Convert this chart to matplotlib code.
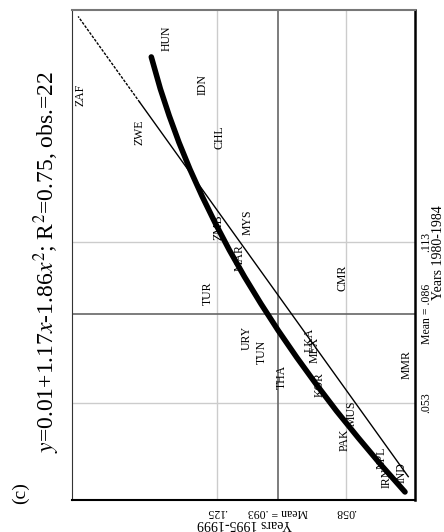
import matplotlib.pyplot as plt

plt.rcParams['font.family'] = ['Liberation Serif', 'DejaVu Serif']
plt.rcParams['mathtext.fontset'] = 'stix'

# country labels: x = years 1980-1984, y = years 1995-1999
countries = ['ZAF', 'ZWE', 'HUN', 'IDN', 'CHL', 'MYS', 'ZMB', 'MAR', 'TUR', 'CMR', 'URY',
             'TUN', 'THA', 'LKA', 'MEX', 'MMR', 'KOR', 'MUS', 'PAK', 'NPL', 'IRN', 'IND']
x80 = [.1677, .154, .189, .1715, .1521, .1204, .1186, .107, .094, .0995, .0772,
       .072, .0626, .0764, .0727, .0671, .0597, .0492, .0392, .0325, .025, .0272]
y95 = [.196, .1653, .1508, .1321, .1238, .1092, .1243, .1129, .1295, .0599, .1092,
       .1015, .0911, .0765, .0739, .0261, .0713, .0547, .0584, .0391, .037, .0287]

# fitted curve
fit_x = [.0198, .030, .040, .050, .060, .070, .080, .090, .100,
         .110, .120, .130, .140, .150, .160, .170, .1819]
fit_y = [.0272, .0398, .0515, .0628, .0734, .0835, .0931, .1021, .1106,
         .1185, .1258, .1326, .1389, .1446, .1497, .1543, .1590]

# 45 degree line
diag_solid = [.0255, .165]
diag_dotted = [.165, .197]

mean80, mean95 = .086, .093
xticks80 = [.053, .086, .113]
xlabels80 = ['.053', 'Mean = .086', '.113']
yticks95 = [.125, .093, .058]
ylabels95 = ['.125', 'Mean = .093', '.058']

fig = plt.figure(figsize=(4.44, 5.32), dpi=100)
# chart is drawn turned 90 degrees: horizontal = 1995-1999 (reversed), vertical = 1980-1984
ax = fig.add_axes([72 / 444, 32 / 532, 343 / 444, 490 / 532])
ax.set_xlim(0.2002, 0.022)
ax.set_ylim(0.0168, 0.1994)

for v in [.058, .125]:
    ax.axvline(v, color='#cccccc', lw=1, zorder=1)
for v in [.053, .113]:
    ax.axhline(v, color='#cccccc', lw=1, zorder=1)
ax.axvline(mean95, color='#666666', lw=1.2, zorder=1)
ax.axhline(mean80, color='#666666', lw=1.2, zorder=1)

for c, a, b in zip(countries, x80, y95):
    ax.text(b, a, c, rotation=90, ha='center', va='center', fontsize=8.5, zorder=2)

ax.plot(diag_solid, diag_solid, color='black', lw=1, zorder=3)
ax.plot(diag_dotted, diag_dotted, color='black', lw=1, ls=(0, (2, 1)), zorder=3)
ax.plot(fit_y, fit_x, color='black', lw=4, solid_capstyle='round', zorder=4)

ax.set_xticks(yticks95)
ax.set_xticklabels(ylabels95, rotation=180, fontsize=8.5)
ax.yaxis.tick_right()
ax.set_yticks(xticks80)
ax.set_yticklabels(xlabels80, rotation=90, fontsize=8.5, va='center')
ax.tick_params(length=0, pad=4)

ax.spines['top'].set_color('#777777')
ax.spines['top'].set_linewidth(1.5)
ax.spines['left'].set_color('#333333')
ax.spines['right'].set_linewidth(1.8)
ax.spines['bottom'].set_linewidth(1.5)

fig.text(438 / 444, 1 - 253 / 532, 'Years 1980-1984', rotation=90, ha='center', va='center', fontsize=10)
fig.text(244 / 444, 1 - 524 / 532, 'Years 1995-1999', rotation=180, ha='center', va='center', fontsize=10)
fig.text(47 / 444, 1 - 262 / 532,
         r'$y$=0.01+1.17$x$-1.86$x^2$; R$^2$=0.75, obs.=22',
         rotation=90, ha='center', va='center', fontsize=17)
fig.text(20 / 444, 1 - 493 / 532, '(c)', rotation=90, ha='center', va='center', fontsize=14)

fig.savefig('out.png', dpi=100)
